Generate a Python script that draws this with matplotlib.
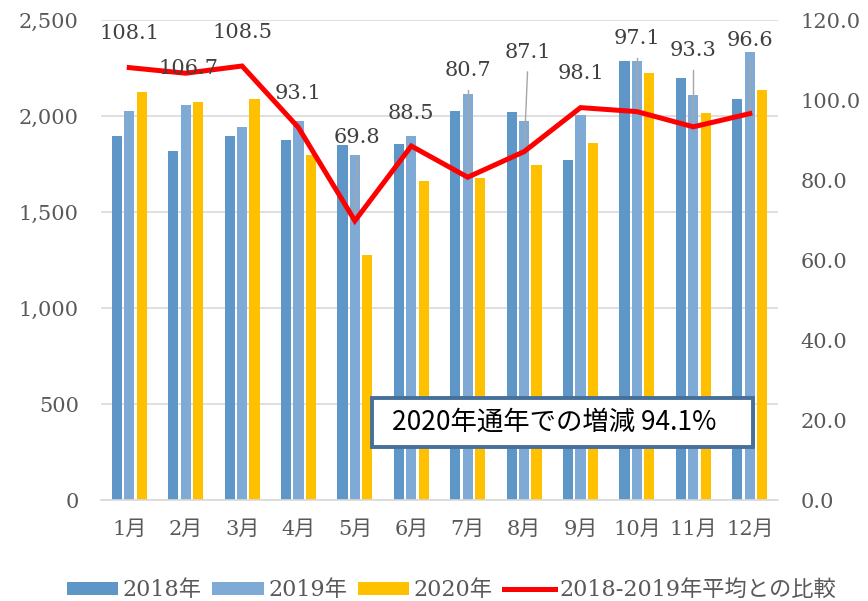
import matplotlib.pyplot as plt
import matplotlib.ticker as mticker
from matplotlib.patches import Rectangle
import numpy as np

# データ
months = ['1月', '2月', '3月', '4月', '5月', '6月', '7月', '8月', '9月', '10月', '11月', '12月']
v2018 = [1897, 1819, 1896, 1877, 1847, 1852, 2028, 2021, 1772, 2288, 2199, 2087]
v2019 = [2024, 2055, 1944, 1974, 1798, 1897, 2116, 1975, 2007, 2288, 2109, 2331]
v2020 = [2127, 2071, 2088, 1797, 1276, 1663, 1677, 1746, 1859, 2226, 2016, 2137]
ratio = [108.1, 106.7, 108.5, 93.1, 69.8, 88.5, 80.7, 87.1, 98.1, 97.1, 93.3, 96.6]
note = '2020年通年での増減 94.1%'

# ラベル位置 (x のずれ, 右軸での y) と引き出し線の有無
lab_dx = [0, 0.05, 0, 0, 0.04, 0, 0, 0.06, 0, 0, 0, 0.01]
lab_y = [116.75, 108, 117, 101.75, 90.75, 96.75, 107.5, 112, 106.75, 115.5, 112.5, 115]
leader = [False, False, False, False, True, False, True, True, False, True, True, True]

plt.rcParams['font.family'] = ['DejaVu Serif', 'Noto Sans CJK JP']
gray = '#595959'

fig = plt.figure(figsize=(8.68, 6.01), dpi=100)
ax = fig.add_axes([0.1164, 0.168, 0.7799, 0.7987])
ax2 = ax.twinx()

x = np.arange(len(months))
w = 0.18
b1 = ax.bar(x - 0.22, v2018, w, color='#5E96C8', label='2018年')
b2 = ax.bar(x, v2019, w, color='#7FAAD6', label='2019年')
b3 = ax.bar(x + 0.22, v2020, w, color='#FFC000', label='2020年')

ax.set_xlim(-0.5, 11.5)
ax.set_ylim(0, 2500)
ax.set_yticks(range(0, 2501, 500))
ax.yaxis.set_major_formatter(mticker.FuncFormatter(lambda v, p: f'{int(v):,}'))
ax.set_xticks(x)
ax.set_xticklabels(months)
ax.grid(axis='y', color='#D9D9D9', linewidth=1.2)
ax.set_axisbelow(True)
for s in ['top', 'left', 'right']:
    ax.spines[s].set_visible(False)
ax.spines['bottom'].set_color('#D9D9D9')
ax.spines['bottom'].set_linewidth(1.2)
ax.tick_params(axis='y', length=0, pad=16, labelsize=15, labelcolor=gray)
ax.tick_params(axis='x', length=0, pad=14, labelsize=15, labelcolor=gray)

line, = ax2.plot(x, ratio, color='#FF0000', linewidth=3.6, solid_joinstyle='miter',
                 label='2018-2019年平均との比較')
ax2.set_ylim(0, 120)
ax2.set_yticks(range(0, 121, 20))
ax2.yaxis.set_major_formatter(mticker.FormatStrFormatter('%.1f'))
for s in ['top', 'left', 'right', 'bottom']:
    ax2.spines[s].set_visible(False)
ax2.tick_params(axis='y', length=0, pad=16, labelsize=15, labelcolor=gray)

# データラベル
for i in range(len(months)):
    lx = x[i] + lab_dx[i]
    if leader[i]:
        ax2.plot([x[i], lx], [ratio[i], lab_y[i] - 5], color='#A6A6A6', linewidth=1, zorder=1)
    ax2.text(lx, lab_y[i], f'{ratio[i]:.1f}', ha='center', va='center',
             fontsize=15, color='#404040', zorder=5)

# 注記
fig.patches.append(Rectangle((0.4286, 0.2562), 0.4389, 0.0815, transform=fig.transFigure,
                             facecolor='white', edgecolor='#46709A', linewidth=2.8, zorder=10))
fig.text(0.638, 0.297, note, ha='center', va='center', fontsize=19,
         family=['Noto Sans CJK JP', 'DejaVu Sans'], color='black', zorder=11)

fig.legend(handles=[b1, b2, b3, line], loc='center', bbox_to_anchor=(0.52, 0.018),
           ncol=4, frameon=False, fontsize=16, handlelength=2.3, handleheight=0.5,
           handletextpad=0.2, columnspacing=0.5, labelcolor=gray)

fig.savefig('out.png', dpi=100)
